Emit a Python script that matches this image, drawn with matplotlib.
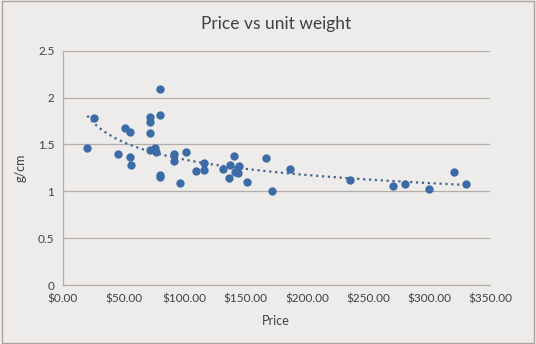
import numpy as np
import matplotlib.pyplot as plt

# price ($) and unit weight (g/cm)
price = [20.2, 25.9, 45.6, 51.3, 55.4, 55.4, 56.2, 71.3, 71.3, 71.3, 71.3,
         75.9, 76.2, 80.0, 80.0, 80.0, 80.0, 91.2, 91.2, 96.1, 101.0, 109.5,
         115.5, 115.5, 131.0, 136.0, 136.8, 140.6, 140.9, 143.9, 144.7, 151.0,
         166.3, 171.2, 186.2, 235.6, 270.3, 280.4, 300.3, 320.2, 330.6]
weight = [1.465, 1.785, 1.40, 1.68, 1.636, 1.37, 1.277, 1.79, 1.735, 1.625, 1.437,
          1.458, 1.42, 2.087, 1.81, 1.177, 1.149, 1.40, 1.326, 1.085, 1.415, 1.213,
          1.298, 1.23, 1.234, 1.138, 1.284, 1.38, 1.206, 1.191, 1.266, 1.095,
          1.351, 1.003, 1.234, 1.117, 1.056, 1.074, 1.028, 1.202, 1.081]

x_ticks = [0, 50, 100, 150, 200, 250, 300, 350]
y_ticks = [0, 0.5, 1, 1.5, 2, 2.5]

plt.rcParams['font.family'] = ['Lato', 'DejaVu Sans']
bg = '#eeecea'
txt = '#404040'
grid = '#b3aeaa'

fig = plt.figure(figsize=(5.36, 3.44), dpi=100, facecolor=bg)
ax = fig.add_axes([0.117, 0.1715, 0.797, 0.681])
ax.set_facecolor(bg)

ax.scatter(price, weight, s=36, color='#3b6ca7', zorder=3, linewidths=0)

# power trendline, fitted like excel does (log-log least squares)
x = np.array(price)
y = np.array(weight)
b, lna = np.polyfit(np.log(x), np.log(y), 1)
xs = np.linspace(x.min(), x.max(), 200)
ax.plot(xs, np.exp(lna) * xs ** b, ':', color='#41648f', lw=1.6, zorder=2)

ax.set_xlim(0, 350)
ax.set_ylim(0, 2.5)
ax.set_xticks(x_ticks)
ax.set_xticklabels(['$%.2f' % v for v in x_ticks])
ax.set_yticks(y_ticks)
ax.set_yticklabels(['%g' % v for v in y_ticks])
ax.tick_params(length=0, labelsize=8.5, colors=txt, pad=6)
ax.grid(axis='y', color=grid, lw=0.9)
ax.set_axisbelow(True)
for s in ['top', 'right']:
    ax.spines[s].set_visible(False)
for s in ['left', 'bottom']:
    ax.spines[s].set_color(grid)
    ax.spines[s].set_linewidth(0.9)

ax.set_title('Price vs unit weight', fontsize=12.5, color=txt, pad=16)
ax.set_xlabel('Price', fontsize=9, color=txt, labelpad=8)
ax.set_ylabel('g/cm', fontsize=9, color=txt, labelpad=8)

fig.patches.append(plt.Rectangle((0.003, 0.003), 0.994, 0.994, transform=fig.transFigure,
                                 fill=False, edgecolor='#a9a4a0', lw=1))

fig.savefig('out.png', dpi=100, facecolor=bg)
